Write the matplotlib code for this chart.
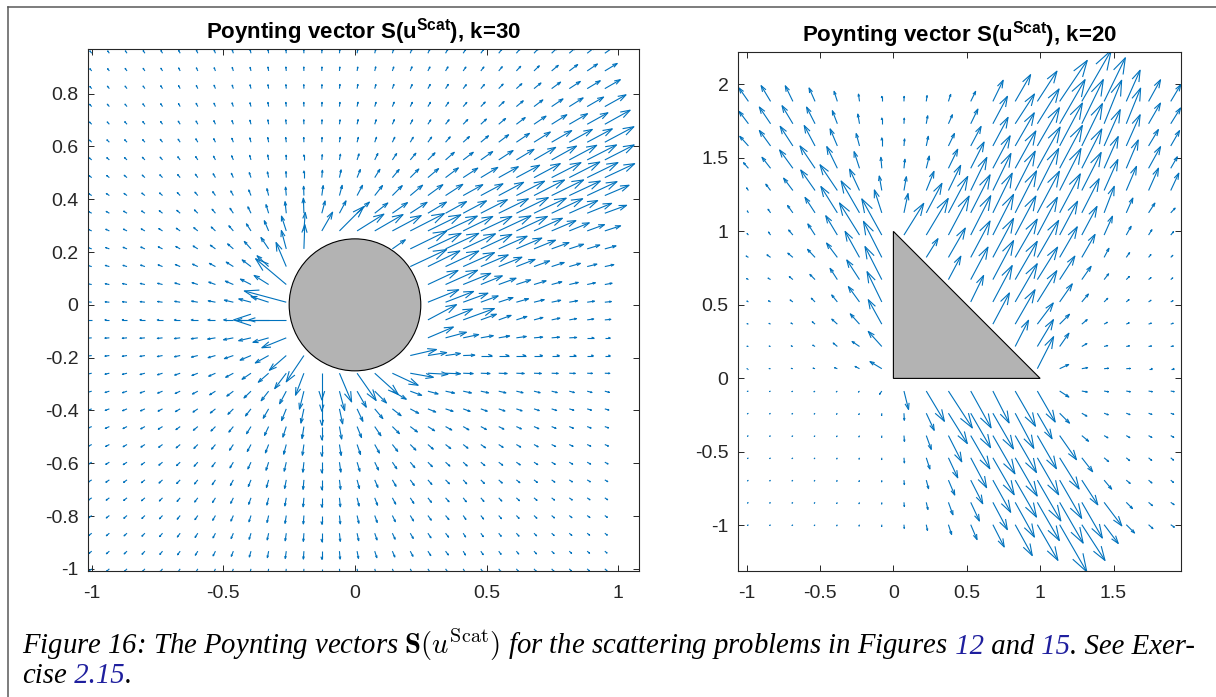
import numpy as np
import matplotlib
matplotlib.use("Agg")
import matplotlib.pyplot as plt
from matplotlib.collections import LineCollection
from matplotlib.patches import Circle, Polygon
from matplotlib.lines import Line2D

plt.rcParams["font.family"] = ["Liberation Sans", "DejaVu Sans"]
plt.rcParams["mathtext.fontset"] = "custom"
plt.rcParams["mathtext.rm"] = "Liberation Sans"
plt.rcParams["mathtext.bf"] = "Liberation Sans:bold"
plt.rcParams["mathtext.it"] = "Liberation Sans:italic"

# ---------------- left panel: disk, k=30 ----------------
# grid points (x left->right, y top->bottom)
X_LEFT = [-1.0, -0.933, -0.866, -0.798, -0.731, -0.664, -0.597, -0.53, -0.462, -0.395,
          -0.328, -0.261, -0.194, -0.126, -0.059, 0.008, 0.075, 0.142, 0.21, 0.277,
          0.344, 0.411, 0.478, 0.546, 0.613, 0.68, 0.747, 0.814, 0.882, 0.949]
Y_LEFT = [0.953, 0.886, 0.819, 0.751, 0.684, 0.616, 0.549, 0.482, 0.414, 0.347,
          0.28, 0.212, 0.145, 0.077, 0.01, -0.057, -0.125, -0.192, -0.259, -0.327,
          -0.394, -0.461, -0.529, -0.596, -0.663, -0.731, -0.798, -0.865, -0.933, -1.0]
# arrow direction (deg) and displayed length (1/1000 axis units); 0 length = no arrow
ANG_LEFT = [
    [128,127,125,123,120,118,115,112,108,104,100, 96,92,88,84,80,76,72,68,64,60, 57,54,52,50,47,44,41,38,35],
    [130,128,126,124,121,118,115,112,108,104,100, 96,92,88,84,80,76,71,67,63,59, 55,52,50,47,44,40,37,34,31],
    [131,129,127,125,122,119,116,112,108,104,100, 96,92,88,83,79,74,70,65,61,57, 52,49,46,42,39,36,33,31,30],
    [133,131,129,126,123,120,117,113,109,105,100, 96,92,87,83,78,73,68,64,59,55, 49,46,43,40,37,34,32,30,29],
    [135,133,131,128,125,122,118,114,110,105,100, 97,92,87,82,77,72,67,62,57,52, 46,43,40,37,34,32,30,29,29],
    [138,136,133,131,128,124,120,116,111,106,101, 97,92,87,81,75,70,64,59,54,49, 42,40,37,34,32,30,29,28,28],
    [141,139,137,134,131,127,123,118,113,107,101, 92,90,85,80,72,64,56,50,45,41, 37,35,33,31,30,29,28,27,27],
    [144,142,140,137,134,130,126,121,115,109,102, 93,90,85,78,68,58,50,45,40,37, 33,31,29,28,28,27,27,26,25],
    [148,146,144,141,138,134,130,125,119,112,104, 95,92,82,75,62,52,45,40,36,33, 29,28,28,27,27,26,25,25,23],
    [152,150,148,145,142,139,135,130,124,116,107, 96,92,75,62,42,38,35,33,31,29, 28,27,26,26,25,25,24,22,20],
    [156,155,153,151,148,145,141,137,131,123,113, 108,86,60,45,32,30,28,27,26,25, 26,25,25,25,24,23,22,20,18],
    [161,160,158,156,154,151,148,144,139,132,124, 105,88,0,0,0,0,35,26,25,25, 25,25,24,23,22,20,18,17,15],
    [165,164,163,161,159,157,155,152,148,143,137, 113,0,0,0,0,0,0,25,26,25, 24,23,22,21,20,18,16,14,12],
    [170,169,168,167,166,164,162,160,157,153,148, 140,0,0,0,0,0,0,0,25,24, 22,22,20,18,17,15,13,12,10],
    [175,175,174,173,172,171,170,169,167,165,162, 165,0,0,0,0,0,0,0,22,21, 20,20,18,16,14,12,10,8,6],
    [180,180,180,180,180,180,180,180,180,180,180, 180,0,0,0,0,0,0,0,28,22, 20,20,20,18,15,12,10,8,5],
    [184,184,185,185,186,187,188,189,191,193,196, 202,0,0,0,0,0,0,0,23,15, 12,10,10,8,5,5,3,0,0],
    [188,188,189,190,191,192,194,196,199,203,209, 221,236,0,0,0,0,0,13,9,8, 2,0,0,0,0,0,0,0,0],
    [192,193,194,195,197,199,201,204,208,214,221, 233,249,270,293,305,318,335,350,357,358, 358,358,358,358,358,358,358,358,358],
    [196,197,199,200,202,205,208,212,217,224,232, 242,256,270,285,300,315,330,340,345,348, 348,348,347,347,346,346,345,345,345],
    [200,201,203,205,207,210,214,219,225,232,240, 248,258,270,282,295,310,322,332,338,342, 340,340,341,341,342,342,343,343,344],
    [203,205,207,209,212,216,220,225,231,238,245, 252,261,270,280,292,304,315,323,328,331, 330,332,333,335,336,337,338,339,340],
    [207,208,210,213,216,220,225,230,236,242,249, 255,262,270,279,289,299,308,315,319,322, 322,325,327,329,331,333,334,335,336],
    [210,211,213,216,219,223,228,233,239,245,252, 257,264,270,278,287,296,304,310,315,318, 317,320,323,325,327,329,330,331,332],
    [212,214,216,219,222,226,231,236,242,248,254, 259,265,270,277,285,293,300,306,311,315, 312,315,318,321,323,325,327,328,329],
    [214,216,218,221,225,229,233,238,244,250,256, 260,265,270,276,284,291,298,303,308,312, 308,311,314,317,320,322,324,325,326],
    [216,218,221,224,227,231,235,240,246,252,257, 261,266,270,276,283,290,296,301,306,310, 305,308,311,314,317,319,321,323,324],
    [218,220,222,225,229,233,237,242,247,253,258, 262,266,270,276,282,289,295,300,304,308, 303,306,309,312,315,317,319,321,322],
    [219,221,224,227,230,234,238,243,248,254,259, 262,266,270,275,281,288,293,298,303,307, 301,304,307,310,313,315,317,319,320],
    [220,222,225,228,231,235,239,244,249,255,260, 263,267,270,275,281,287,292,297,302,306, 300,303,306,309,311,313,315,317,318],
]
LEN_LEFT = [
    [11,11,11,12,12,12,13,13,13,14,14, 14,14,14,14,15,15,15,16,16,17, 18,19,20,23,25,29,33,38,44],
    [11,11,12,12,12,13,13,13,14,14,15, 15,15,15,15,15,16,16,17,17,18, 18,19,21,24,28,33,40,47,55],
    [11,12,12,12,13,13,13,14,14,15,15, 15,15,15,16,16,16,17,17,18,19, 19,21,24,28,34,42,50,58,68],
    [12,12,12,13,13,13,14,14,15,15,16, 16,16,16,16,17,17,18,18,19,20, 21,24,28,34,42,52,62,72,92],
    [12,12,13,13,13,14,14,15,15,16,17, 17,17,17,17,18,18,19,19,20,22, 25,29,34,42,55,68,80,90,110],
    [12,13,13,13,14,14,15,15,16,17,18, 18,18,18,19,19,20,21,22,24,27, 32,38,47,60,73,88,100,108,125],
    [12,13,13,14,14,15,15,16,17,18,19, 18,19,20,22,24,27,29,33,38,44, 48,55,65,78,95,108,118,125,125],
    [13,13,14,14,15,15,16,17,18,20,22, 23,25,28,30,33,37,40,46,53,61, 66,75,85,100,113,125,130,130,125],
    [13,14,14,15,15,16,17,18,20,23,27, 32,35,38,40,44,48,53,61,70,78, 85,95,107,120,130,135,130,125,100],
    [14,14,15,15,16,17,18,20,23,27,34, 44,57,48,53,63,63,70,76,82,91, 100,113,125,135,135,130,118,100,88],
    [14,15,15,16,17,18,20,22,26,32,42, 59,70,82,130,120,124,124,145,139,133, 125,130,135,130,118,100,82,70,63],
    [15,15,16,17,18,19,21,24,29,38,52, 72,92,0,0,0,0,60,153,139,139, 135,130,118,105,88,70,57,50,44],
    [15,16,16,17,18,20,22,26,32,42,60, 99,0,0,0,0,0,0,152,135,139, 130,113,95,76,63,50,44,38,35],
    [15,16,17,18,19,21,23,27,33,45,65, 152,0,0,0,0,0,0,0,126,133, 113,88,70,57,48,40,35,32,28],
    [16,16,17,18,19,21,24,28,35,48,70, 165,0,0,0,0,0,0,0,126,114, 100,70,57,48,40,35,32,28,25],
    [17,17,18,19,20,22,25,29,37,50,75, 200,0,0,0,0,0,0,0,123,110, 126,63,50,42,35,32,28,25,23],
    [17,17,18,19,20,22,25,30,38,48,62, 100,0,0,0,0,0,0,0,105,82, 60,48,42,38,33,30,28,25,20],
    [17,17,18,19,20,22,25,29,36,45,58, 85,120,0,0,0,0,0,102,72,57, 44,42,38,35,32,29,25,23,20],
    [17,17,18,19,20,22,24,28,33,41,52, 73,89,101,118,126,120,108,89,76,57, 38,35,32,30,28,25,23,20,19],
    [17,17,18,19,20,21,23,26,31,37,46, 54,70,76,76,70,63,61,46,40,35, 32,30,28,26,24,22,20,19,18],
    [16,17,18,18,19,21,22,25,29,34,41, 48,55,62,58,52,48,42,36,32,30, 28,26,25,23,21,20,18,17,16],
    [16,17,17,18,19,20,22,24,27,32,37, 42,46,50,48,45,42,38,34,30,27, 25,24,22,21,20,18,17,16,15],
    [16,16,17,18,18,20,21,23,26,30,34, 38,41,44,42,40,37,33,30,27,25, 23,22,20,19,18,17,16,15,15],
    [16,16,17,17,18,19,21,22,25,28,32, 35,38,40,38,36,33,30,27,24,22, 21,20,19,18,17,16,15,15,14],
    [15,16,16,17,18,19,20,22,24,27,30, 33,36,37,36,34,31,28,26,23,21, 20,19,18,17,16,15,14,14,13],
    [15,15,16,17,17,18,20,21,23,26,28, 31,34,35,34,32,30,27,25,22,20, 19,18,17,16,15,14,14,13,13],
    [15,15,16,16,17,18,19,21,23,25,27, 30,32,33,32,30,28,26,24,22,20, 18,17,16,15,15,14,13,13,12],
    [15,15,15,16,17,18,19,20,22,24,26, 29,31,32,31,29,27,25,23,21,19, 17,16,15,15,14,13,13,12,12],
    [14,15,15,16,16,17,18,20,21,23,25, 28,30,31,30,28,26,24,22,20,18, 17,16,15,14,14,13,12,12,11],
    [14,14,15,15,16,17,18,19,21,22,24, 27,29,30,29,27,25,23,21,19,17, 16,15,15,14,13,13,12,12,11],
]
DISK_RADIUS = 0.25

# ---------------- right panel: triangle, k=20 ----------------
X_RIGHT = [-0.988, -0.837, -0.685, -0.534, -0.382, -0.231, -0.079, 0.072, 0.224, 0.375,
           0.527, 0.678, 0.83, 0.981, 1.133, 1.284, 1.436, 1.587, 1.739, 1.89]
Y_RIGHT = [1.884, 1.732, 1.581, 1.429, 1.278, 1.126, 0.975, 0.823, 0.672, 0.52,
           0.369, 0.217, 0.066, -0.086, -0.237, -0.389, -0.54, -0.692, -0.843, -0.995]
ANG_RIGHT = [
    [125,121,116,114,108,98,90, 88,82,72,64,64,60,57,56,60,64,66,61,59],
    [127,124,121,117,111,100,90, 87,80,66,64,62,57,58,60,64,68,68,60,58],
    [132,126,123,118,113,105,90, 85,78,64,62,62,60,60,62,64,66,66,59,60],
    [131,128,126,124,116,108,95, 84,76,64,63,62,61,61,62,63,66,67,61,60],
    [125,127,127,125,124,115,100, 80,68,64,64,64,63,63,63,63,66,67,66,65],
    [120,125,126,123,122,120,108, 78,62,62,63,64,63,62,62,63,69,66,57,47],
    [130,125,130,123,121,122,119, 58,59,62,63,63,62,62,62,62,66,61,58,50],
    [150,145,140,133,127,119,117, 0,58,60,62,62,60,60,60,60,62,55,50,45],
    [150,150,140,135,123,123,117, 0,0,62,62,62,60,58,57,55,52,45,40,40],
    [150,150,145,135,129,126,116, 0,0,0,64,62,60,58,55,50,45,40,35,30],
    [160,155,150,140,138,132,119, 0,0,0,0,62,60,53,45,40,30,25,20,20],
    [170,165,160,150,140,146,132, 0,0,0,0,0,63,59,55,30,15,12,10,10],
    [180,175,170,165,160,153,149, 0,0,0,0,0,0,63,25,10,5,3,0,0],
    [200,205,210,215,220,225,235, 284,301,303,299,297,300,300,327,350,350,350,350,350],
    [210,215,220,225,230,240,265, 273,295,302,300,300,298,300,315,330,340,340,340,340],
    [215,220,225,230,235,245,265, 275,290,297,300,300,300,300,305,320,330,330,330,330],
    [220,222,225,230,240,250,265, 275,288,295,298,300,300,300,302,308,320,320,320,320],
    [220,222,225,230,240,250,265, 275,285,293,297,299,300,300,300,303,310,320,320,320],
    [220,222,225,230,240,250,265, 275,283,290,295,298,299,300,300,300,307,315,320,325],
    [220,222,225,230,240,250,265, 275,282,288,293,297,299,300,300,303,307,315,318,325],
]
LEN_RIGHT = [
    [111,125,118,100,72,50,34, 34,40,50,76,160,210,245,336,400,330,232,168,132],
    [105,137,143,127,95,67,39, 38,55,67,111,211,241,279,346,334,319,261,162,126],
    [88,130,159,157,126,87,55, 48,67,94,150,220,260,300,330,320,270,232,130,120],
    [51,95,154,183,164,119,75, 62,86,144,200,250,290,320,330,300,236,209,168,90],
    [22,54,105,170,211,160,100, 95,140,190,250,280,300,320,320,290,230,178,166,130],
    [15,30,62,125,211,250,164, 134,227,280,290,300,320,320,300,260,193,110,79,44],
    [14,25,45,90,153,257,281, 254,290,300,300,310,300,290,260,220,140,68,43,30],
    [18,30,45,75,122,202,275, 0,150,230,280,300,300,290,240,180,70,40,25,20],
    [14,20,32,50,91,159,252, 0,0,180,250,300,300,260,190,110,50,30,22,18],
    [12,16,23,36,61,129,229, 0,0,0,200,280,300,250,150,70,35,25,20,18],
    [10,12,15,25,51,94,190, 0,0,0,0,240,270,180,95,48,25,22,20,18],
    [10,10,12,18,37,61,138, 0,0,0,0,0,200,213,110,40,25,22,20,18],
    [10,10,11,14,20,34,94, 0,0,0,0,0,0,244,68,40,30,28,25,22],
    [8,8,8,9,9,10,27, 129,240,299,286,243,276,243,75,38,30,28,26,24],
    [8,8,8,8,9,10,15, 48,128,243,270,280,270,200,95,40,30,27,24,22],
    [8,8,8,8,9,10,12, 40,100,200,260,300,290,260,200,60,30,28,26,24],
    [8,8,8,8,9,10,12, 35,80,150,230,290,300,290,250,120,40,30,28,25],
    [8,8,8,8,9,10,12, 30,60,110,180,250,290,320,300,200,80,35,30,25],
    [8,8,8,8,9,10,12, 28,50,90,140,210,270,300,320,280,200,60,35,28],
    [8,8,8,8,9,10,12, 25,40,70,110,170,240,280,370,290,160,80,40,30],
]
TRI_X = [0, 1, 0]
TRI_Y = [0, 0, 1]

TITLES = [r"Poynting vector S(u$^{\mathbf{Scat}}$), k=30",
          r"Poynting vector S(u$^{\mathbf{Scat}}$), k=20"]
LEFT_XTICKS = [-1, -0.5, 0, 0.5, 1]
LEFT_YTICKS = [-1, -0.8, -0.6, -0.4, -0.2, 0, 0.2, 0.4, 0.6, 0.8]
RIGHT_XTICKS = [-1, -0.5, 0, 0.5, 1, 1.5]
RIGHT_YTICKS = [-1, -0.5, 0, 0.5, 1, 1.5, 2]

ARROW_COLOR = (0, 0.447, 0.741)
AX_COLOR = (0.15, 0.15, 0.15)
OBSTACLE_COLOR = (0.7, 0.7, 0.7)
LINK_COLOR = (0.12, 0.12, 0.62)


def fmt(v):
    return "0" if v == 0 else f"{v:g}"


def matlab_arrows(xs, ys, angles, lengths, alpha=0.33, beta=0.33):
    # shaft + open two-line head, like MATLAB quiver
    segs = []
    for r, y in enumerate(ys):
        for c, x in enumerate(xs):
            L = lengths[r][c] / 1000.0
            if L <= 0:
                continue
            a = np.deg2rad(angles[r][c])
            u, v = L * np.cos(a), L * np.sin(a)
            tx, ty = x + u, y + v
            segs.append([(x, y), (tx, ty)])
            segs.append([(tx - alpha * (u + beta * v), ty - alpha * (v - beta * u)),
                         (tx, ty),
                         (tx - alpha * (u - beta * v), ty - alpha * (v + beta * u))])
    return segs


def style_axes(ax, xticks, yticks, xlim, ylim, title):
    ax.set_xlim(*xlim)
    ax.set_ylim(*ylim)
    ax.set_xticks(xticks)
    ax.set_xticklabels([fmt(t) for t in xticks])
    ax.set_yticks(yticks)
    ax.set_yticklabels([fmt(t) for t in yticks])
    ax.tick_params(direction="in", length=4.5, width=0.7, colors=AX_COLOR,
                   labelsize=14, top=True, right=True, pad=7)
    ax.tick_params(axis="x", pad=10)
    for s in ax.spines.values():
        s.set_color(AX_COLOR)
        s.set_linewidth(0.8)
    ax.set_title(title, fontsize=16, fontweight="bold", pad=7.5, color="k",
                 math_fontfamily="custom")


W, H = 1216, 697
fig = plt.figure(figsize=(W / 100, H / 100), dpi=100)
fig.patch.set_facecolor("white")

ax1 = fig.add_axes([88.3 / W, 1 - 570.7 / H, (639.3 - 88.3) / W, (570.7 - 49.3) / H])
ax1.add_collection(LineCollection(matlab_arrows(X_LEFT, Y_LEFT, ANG_LEFT, LEN_LEFT),
                                  colors=[ARROW_COLOR], linewidths=0.8, zorder=2))
ax1.add_patch(Circle((0, 0), DISK_RADIUS, facecolor=OBSTACLE_COLOR, edgecolor="k",
                     linewidth=0.8, zorder=3))
style_axes(ax1, LEFT_XTICKS, LEFT_YTICKS, (-1.013, 1.080), (-1.007, 0.968), TITLES[0])

ax2 = fig.add_axes([738.3 / W, 1 - 571 / H, (1181 - 738.3) / W, (571 - 52) / H])
ax2.add_collection(LineCollection(matlab_arrows(X_RIGHT, Y_RIGHT, ANG_RIGHT, LEN_RIGHT),
                                  colors=[ARROW_COLOR], linewidths=0.8, zorder=2))
ax2.add_patch(Polygon(list(zip(TRI_X, TRI_Y)), closed=True, facecolor=OBSTACLE_COLOR,
                      edgecolor="k", linewidth=0.8, zorder=3))
style_axes(ax2, RIGHT_XTICKS, RIGHT_YTICKS, (-1.057, 1.96), (-1.31, 2.22), TITLES[1])

# page frame
fig.add_artist(Line2D([8 / W, 8 / W], [0, 1 - 7 / H], color=(0.35, 0.35, 0.35), lw=1.1))
fig.add_artist(Line2D([8 / W, 1], [1 - 7 / H, 1 - 7 / H], color=(0.35, 0.35, 0.35), lw=1.1))

# caption
CAPTION_1 = [(r"Figure 16: The Poynting vectors $\mathbf{S}(u^{\mathrm{Scat}})$ for the scattering problems in Figures", "k"),
             (" 12", LINK_COLOR), (" and", "k"), (" 15", LINK_COLOR), (". See Exer-", "k")]
CAPTION_2 = [("cise", "k"), (" 2.15", LINK_COLOR), (".", "k")]

renderer = fig.canvas.get_renderer()


def caption_line(pieces, x_px, base_px, size):
    x = x_px
    made = []
    for s, c in pieces:
        t = fig.text(x / W, 1 - base_px / H, s, color=c, fontsize=size,
                     family="Liberation Serif", style="italic", math_fontfamily="cm",
                     ha="left", va="baseline")
        x += t.get_window_extent(renderer).width
        made.append(t)
    return made, x - x_px


tmp, width = caption_line(CAPTION_1, 22, 654, 16)
for t in tmp:
    t.remove()
size = 16 * (1196 - 22) / width
caption_line(CAPTION_1, 22, 654, size)
caption_line(CAPTION_2, 22, 683, size)

fig.savefig("out.png", dpi=100, facecolor="white")
